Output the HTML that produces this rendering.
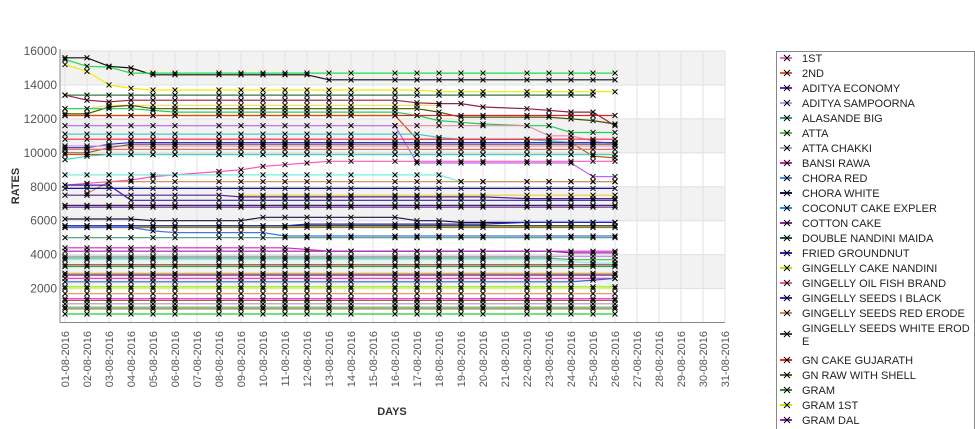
<!DOCTYPE html>
<html><head><meta charset="utf-8"><style>
html,body{margin:0;padding:0;background:#fff;width:975px;height:429px;overflow:hidden}
svg{display:block;font-family:"Liberation Sans",sans-serif;overflow:hidden}
</style></head><body>
<svg id="chart" width="975" height="429">
<g id="bands"></g>
<g id="grid"></g>
<g id="series"></g>
<g id="axes"></g>
<text x="19" y="186" transform="rotate(-90 19 186)" text-anchor="middle" font-size="11" font-weight="bold" fill="#333">RATES</text>
<text x="392" y="415" text-anchor="middle" font-size="11" font-weight="bold" fill="#333">DAYS</text>
<g id="legend"></g>
</svg>
<script>
const days=[1,2,3,4,5,6,8,9,10,11,12,13,14,16,17,18,19,20,22,23,24,25,26];
const yTicks=[2000,4000,6000,8000,10000,12000,14000,16000];
const dayLabels=["01-08-2016","02-08-2016","03-08-2016","04-08-2016","05-08-2016","06-08-2016","07-08-2016","08-08-2016","09-08-2016","10-08-2016","11-08-2016","12-08-2016","13-08-2016","14-08-2016","15-08-2016","16-08-2016","17-08-2016","18-08-2016","19-08-2016","20-08-2016","21-08-2016","22-08-2016","23-08-2016","24-08-2016","25-08-2016","26-08-2016","27-08-2016","28-08-2016","29-08-2016","30-08-2016","31-08-2016"];
const seriesColors=["#111111","#22dd44","#eeee00","#337744","#992244","#eedd55","#445500","#22cc55","#dd2222","#cc5500","#bb66ee","#ee88aa","#44cccc","#ff2244","#3333cc","#dd99dd","#886633","#dd7766","#ee4411","#33ddcc","#ff55bb","#77eedd","#cc8855","#1111aa","#3322aa","#eecc33","#552288","#442266","#663399","#221144","#111111","#2222cc","#888800","#4477dd","#449977","#dd22cc","#9922aa","#bb88dd","#44bb55","#88eeee","#22aa44","#993322","#ccaa33","#771177","#ee44cc","#3366cc","#99ee00","#ddee88","#ee8866","#ff22ff","#aa6633","#aa99bb","#66aa55","#888844","#22cc33"];
const s01=[15600,15600,15100,15000,14600,14600,14600,14600,14600,14600,14600,14300,14300,14300,14300,14300,14300,14300,14300,14300,14300,14300,14300];
const s02=[15500,15100,15050,14700,14700,14700,14700,14700,14700,14700,14700,14700,14700,14700,14700,14700,14700,14700,14700,14700,14700,14700,14700];
const s03=[15200,14800,14000,13800,13700,13700,13700,13700,13700,13700,13700,13700,13700,13700,13700,13600,13600,13600,13600,13600,13600,13600,13600];
const s04=[13400,13400,13400,13400,13400,13400,13400,13400,13400,13400,13400,13400,13400,13400,13400,13400,13400,13400,13400,13400,13400,13400,null];
const s05=[13400,13100,13000,13100,13100,13100,13100,13100,13100,13100,13100,13100,13100,13100,12950,12900,12900,12700,12600,12500,12400,12400,11600];
const s06=[12600,12600,12800,12800,12800,12800,12800,12800,12800,12800,12800,12800,12800,12800,12800,12800,null,null,null,null,null,null,null];
const s07=[12300,12300,12700,12800,12600,12600,12600,12600,12600,12600,12600,12600,12600,12600,12600,12400,12100,12100,12100,12100,12000,11900,11700];
const s08=[12600,12600,12600,12600,12500,12400,12400,12400,12400,12400,12400,12400,12400,12400,12200,11900,11800,11700,11600,11600,11200,11200,11200];
const s09=[12200,12200,12200,12200,12200,12200,12200,12200,12200,12200,12200,12200,12200,12200,12200,12200,12200,12200,12200,12200,12200,12200,12200];
const s10=[12200,12200,12200,12200,12200,12200,12200,12200,12200,12200,12200,12200,12200,12200,10800,10800,10800,10800,10800,10700,10600,9800,9700];
const s11=[11600,11600,11600,11600,11600,11600,11600,11600,11600,11600,11600,11600,11600,11600,9400,9400,9400,9400,9400,9400,9400,8600,8600];
const s12=[null,null,null,null,null,null,null,null,null,null,null,null,null,11600,11600,11600,11600,11600,11600,11000,11000,10700,10500];
const s13=[11100,11100,11100,11100,11100,11100,11100,11100,11100,11100,11100,11100,11100,11100,11100,10900,10800,10800,10800,10700,10600,10600,10600];
const s14=[10800,10800,10800,10800,10800,10800,10800,10800,10800,10800,10800,10800,10800,10800,10800,10800,10800,10800,10800,10800,10800,10800,10800];
const s15=[10300,10300,10500,10600,10600,10600,10600,10600,10600,10600,10600,10600,10600,10600,10600,10600,10600,10600,10600,10600,10600,10600,10600];
const s16=[10400,10400,10400,10400,10400,10400,10400,10400,10400,10400,10400,10400,10400,10400,10400,10400,10400,10400,10400,10400,10400,10400,10400];
const s17=[10000,10000,10300,10500,10500,10500,10500,10500,10500,10500,10500,10500,10500,10500,10500,10500,10500,10500,10500,10500,10500,10500,10500];
const s18=[10200,10200,10200,10200,10200,10200,10200,10200,10200,10200,10200,10200,10200,10200,10200,10200,10200,10200,10200,10200,10200,10200,10200];
const s19=[9900,9900,9900,9900,9900,9900,9900,9900,9900,9900,9900,9900,9900,9900,9900,9900,9900,9900,9900,9900,9900,9900,9900];
const s20=[9600,9800,9900,9900,9900,9900,9900,9900,9900,9900,9900,9900,9900,9900,9900,9900,9900,9900,9900,9900,9900,9900,9900];
const s21=[8100,8200,8300,8400,8600,8700,8900,9000,9200,9300,9400,9500,9500,9500,9500,9500,9500,9500,9500,9500,9500,9500,9500];
const s22=[8700,8700,8700,8700,8700,8700,8700,8700,8700,8700,8700,8700,8700,8700,8700,8700,8300,8300,8300,8300,8300,8300,8300];
const s23=[null,7600,8300,8300,8300,8300,8300,8300,8300,8300,8300,8300,8300,8300,8300,8300,8300,8300,8300,8300,8300,8300,8300];
const s24=[7900,7900,7900,7900,7900,7900,7900,7900,7900,7900,7900,7900,7900,7900,7900,7900,7900,7900,7900,7900,7900,7900,7900];
const s25=[8100,8100,8100,7200,7200,7200,7200,7200,7200,7200,7200,7200,7200,7200,7200,7200,7200,7200,7200,7200,7200,7200,7200];
const s26=[null,null,null,null,null,null,null,7500,7500,7500,7500,7500,7500,7500,7500,7500,7500,7500,7500,7500,7500,7500,7500];
const s27=[7500,7500,7500,7500,7500,7500,7500,7400,7400,7400,7400,7400,7400,7400,7400,7400,7400,7400,7300,7300,7300,7300,7300];
const s28=[6900,6900,6900,6900,6900,6900,6900,6900,6900,6900,6900,6900,6900,6900,6900,6900,6900,6900,6900,6900,6900,6900,6900];
const s29=[6800,6800,6800,6800,6800,6800,6800,6800,6800,6800,6800,6800,6800,6800,6800,6800,6800,6800,6800,6800,6800,6800,6800];
const s30=[6100,6100,6100,6100,6000,6000,6000,6000,6200,6200,6200,6200,6200,6200,6000,6000,5900,5900,5900,5900,5900,5900,5900];
const s31=[5700,5700,5700,5700,5700,5700,5700,5700,5700,5700,5700,5700,5700,5700,5700,5700,5700,5700,5700,5700,5700,5700,5700];
const s32=[5700,5700,5700,5700,5700,5700,5700,5700,5700,5700,5800,5800,5800,5800,5800,5800,5800,5800,5900,5900,5900,5900,5900];
const s33=[5600,5600,5600,5600,5600,5600,5600,5600,5600,5600,5600,5600,5600,5600,5600,5600,5600,5600,5600,5600,5600,5600,5600];
const s34=[5600,5600,5600,5600,5400,5300,5300,5300,5300,5100,5100,5100,5100,5100,5100,5100,5100,5100,5100,5100,5100,5100,5100];
const s35=[5000,5000,5000,5000,5000,5000,5000,5000,5000,5000,5000,5000,5000,5000,5000,5000,5000,5000,5000,5000,5000,5000,5000];
const s36=[4400,4400,4400,4400,4400,4400,4400,4400,4400,4400,4300,4200,4200,4200,4200,4200,4200,4200,4200,4200,4200,4200,4200];
const s37=[4200,4200,4200,4200,4200,4200,4200,4200,4200,4200,4200,4200,4200,4200,4200,4200,4200,4200,4200,4200,4100,4100,4100];
const s38=[3900,3900,3900,3900,3900,3900,3900,3900,3900,3900,3900,3900,3900,3900,3900,3900,3900,3900,3900,3900,3900,3900,3900];
const s39=[3800,3800,3800,3800,3800,3800,3800,3800,3800,3800,3800,3800,3800,3800,3800,3800,3800,3800,3800,3800,3700,3700,3700];
const s40=[3700,3700,3700,3700,3700,3700,3700,3700,3700,3700,3700,3700,3700,3700,3700,3700,3700,3700,3700,3700,3600,3500,3500];
const s41=[3300,3300,3300,3300,3300,3300,3300,3300,3300,3300,3300,3300,3300,3300,3300,3300,3300,3300,3300,3300,3300,3300,3300];
const s42=[3400,3400,3400,3400,3400,3400,3400,3400,3400,3400,3400,3400,3400,3400,3400,3400,3400,3400,3400,3400,3400,3400,3400];
const s43=[2900,2900,2900,2900,2900,2900,2900,2900,2900,2900,2900,2900,2900,2900,2900,2900,2900,2900,2900,2900,2900,2900,2900];
const s44=[2800,2800,2800,2800,2800,2800,2800,2800,2800,2800,2800,2800,2800,2800,2800,2800,2800,2800,2800,2800,2800,2800,2800];
const s45=[2600,2600,2600,2600,2600,2600,2600,2600,2600,2600,2600,2600,2600,2600,2600,2600,2600,2600,2600,2600,2600,2600,2600];
const s46=[2400,2400,2400,2400,2400,2400,2400,2400,2400,2400,2400,2400,2400,2400,2400,2400,2400,2400,2400,2400,2400,2500,2600];
const s47=[2100,2100,2100,2100,2100,2100,2100,2100,2100,2100,2100,2100,2100,2100,2100,2100,2100,2100,2100,2100,2100,2100,2100];
const s48=[2000,2000,2000,2000,2000,2000,2000,2000,2000,2000,2000,2000,2000,2000,2000,2000,2000,2000,2000,2000,2000,2000,2000];
const s49=[1700,1700,1700,1700,1700,1700,1700,1700,1700,1700,1700,1700,1700,1700,1700,1700,1700,1700,1700,1700,1700,1700,1700];
const s50=[1400,1400,1400,1400,1400,1400,1400,1400,1400,1400,1400,1400,1400,1400,1400,1400,1400,1400,1400,1400,1400,1400,1400];
const s51=[1300,1300,1300,1300,1300,1300,1300,1300,1300,1300,1300,1300,1300,1300,1300,1300,1300,1300,1300,1300,1300,1300,1300];
const s52=[1100,1100,1100,1100,1100,1100,1100,1100,1100,1100,1100,1100,1100,1100,1100,1100,1100,1100,1100,1100,1100,1100,1100];
const s53=[900,900,900,900,900,900,900,900,900,900,900,900,900,900,900,900,900,900,900,900,900,900,900];
const s54=[800,800,800,800,800,800,800,800,800,800,800,800,800,800,800,800,800,800,800,800,800,800,800];
const s55=[500,500,500,500,500,500,500,500,500,500,500,500,500,500,500,500,500,500,500,500,500,500,500];
const allSeries=[s01,s02,s03,s04,s05,s06,s07,s08,s09,s10,s11,s12,s13,s14,s15,s16,s17,s18,s19,s20,s21,s22,s23,s24,s25,s26,s27,s28,s29,s30,s31,s32,s33,s34,s35,s36,s37,s38,s39,s40,s41,s42,s43,s44,s45,s46,s47,s48,s49,s50,s51,s52,s53,s54,s55];
const legendNames=["1ST","2ND","ADITYA ECONOMY","ADITYA SAMPOORNA","ALASANDE BIG","ATTA","ATTA CHAKKI","BANSI RAWA","CHORA RED","CHORA WHITE","COCONUT CAKE EXPLER","COTTON CAKE","DOUBLE NANDINI MAIDA","FRIED GROUNDNUT","GINGELLY CAKE NANDINI","GINGELLY OIL FISH BRAND","GINGELLY SEEDS I BLACK","GINGELLY SEEDS RED ERODE","GINGELLY SEEDS WHITE EROD|E","GN CAKE GUJARATH","GN RAW WITH SHELL","GRAM","GRAM 1ST","GRAM DAL"];
const legendColors=["#ee66cc","#ee5522","#6622cc","#99aaee","#339977","#55bb44","#bb99cc","#cc2299","#4488ee","#221144","#2288ee","#882299","#225544","#2222cc","#ccdd00","#ee5588","#4422cc","#dd8844","#444433","#ee2222","#556633","#338833","#dddd00","#8822cc"];

const NS="http://www.w3.org/2000/svg";
const L=60,R=725,T=51,B=322.5,X0=65,DX=22;
const xs=d=>X0+(d-1)*DX;
const ys=v=>B-(v/16000)*(B-T);
function mk(tag,attrs,parent){const e=document.createElementNS(NS,tag);for(const k in attrs)e.setAttribute(k,attrs[k]);parent.appendChild(e);return e;}
const bands=document.getElementById('bands'),grid=document.getElementById('grid'),ser=document.getElementById('series'),axes=document.getElementById('axes'),leg=document.getElementById('legend');
for(let i=0;i<yTicks.length;i++){
  const v=yTicks[i];
  if(i%2===1){const r=mk('rect',{x:L,y:ys(v),width:R-L,height:ys(v-2000)-ys(v),fill:'#f2f2f2'},bands);
  
  }
  const gl=mk('line',{x1:L,x2:R,y1:ys(v),y2:ys(v),stroke:'#e0e0e0'},grid);
  
  
  const t=mk('text',{x:57,y:ys(v)+4,'text-anchor':'end','font-size':12,fill:'#555'},axes);
  
  
  t.textContent=v;
}
for(let i=0;i<dayLabels.length;i++){
  const x=xs(i+1);
  const gl=mk('line',{x1:x,x2:x,y1:T,y2:B,stroke:'#e2e2e2'},grid);
  
  
  const t=mk('text',{x:x+4,y:331,'text-anchor':'end','font-size':11,fill:'#555',transform:`rotate(-90 ${x+4} 331)`},axes);
  
  
  t.textContent=dayLabels[i];
}
const ax=mk('path',{d:`M${L} ${T-2} V${B} H${R}`,stroke:'#888',fill:'none'},axes);


allSeries.forEach((s,si)=>{
  let d='',pen=false;
  s.forEach((v,i)=>{if(v==null){pen=false;return;}d+=(pen?'L':'M')+xs(days[i])+' '+ys(v).toFixed(1);pen=true;});
  const p=mk('path',{d:d,stroke:seriesColors[si],'stroke-width':1.2,fill:'none'},ser);
  
  
});
allSeries.forEach((s,si)=>{
  s.forEach((v,i)=>{if(v==null)return;const x=xs(days[i]),y=ys(v);
    const m=mk('path',{d:`M${x-2.5} ${y-2.5}L${x+2.5} ${y+2.5}M${x-2.5} ${y+2.5}L${x+2.5} ${y-2.5}`,stroke:'#000','stroke-width':1},ser);
    
    
  });
});
const box=mk('rect',{x:776.5,y:51.5,width:198,height:378,fill:'#fff',stroke:'#888'},leg);


let ly=58;
legendNames.forEach((n,i)=>{
  const parts=n.split('|');
  const cy=parts.length>1?ly+6:ly;
  const g=mk('g',{},leg);
  
  
  mk('line',{x1:780,x2:792,y1:cy,y2:cy,stroke:legendColors[i],'stroke-width':2},g);
  mk('path',{d:`M${784} ${cy-3}L${790} ${cy+3}M${784} ${cy+3}L${790} ${cy-3}`,stroke:'#000'},g);
  parts.forEach((p,j)=>{const t=mk('text',{x:802,y:ly+4+j*13,'font-size':11,fill:'#222'},g);t.textContent=p;});
  ly+=parts.length>1?32:15;
});
</script>
</body></html>
